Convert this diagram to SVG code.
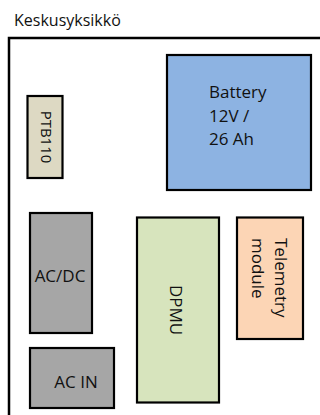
<svg xmlns="http://www.w3.org/2000/svg" width="320" height="415" viewBox="0 0 320 415">
<style>
.box{stroke:#000;stroke-width:2.2}
.t{font-family:"Open Sans","Liberation Sans",sans-serif;font-size:17px;fill:#111}
</style>
<rect width="320" height="415" fill="#fff"/>
<g id="title"><text class="t" x="14" y="26" style="font-size:16px">Keskusyksikkö</text></g>
<g id="keskusyksikko"><rect x="9" y="38" width="330" height="400" fill="none" stroke="#000" stroke-width="2.5"/></g>
<g id="battery">
<rect class="box" x="167" y="55" width="144" height="135" fill="#8DB3E2"/>
<text class="t" x="209" y="98">Battery</text>
<text class="t" x="209" y="122">12V /</text>
<text class="t" x="209" y="145">26 Ah</text>
</g>
<g id="ptb110">
<rect class="box" x="27.5" y="96" width="35" height="82" fill="#DDD9C3"/>
<text class="t" transform="translate(41,137) rotate(90)" text-anchor="middle" style="font-size:15px">PTB110</text>
</g>
<g id="acdc">
<rect class="box" x="30" y="213" width="62" height="120" fill="#A6A6A6"/>
<text class="t" x="60" y="282" text-anchor="middle">AC/DC</text>
</g>
<g id="dpmu">
<rect class="box" x="137" y="217.5" width="82" height="185" fill="#D7E4BD"/>
<text class="t" transform="translate(170,310) rotate(90)" text-anchor="middle">DPMU</text>
</g>
<g id="telemetry">
<rect class="box" x="237" y="217.5" width="66" height="121.5" fill="#FCD5B5"/>
<text class="t" transform="translate(275,238) rotate(90)">Telemetry</text>
<text class="t" transform="translate(252,238) rotate(90)">module</text>
</g>
<g id="acin">
<rect class="box" x="30" y="348" width="84" height="60" fill="#A6A6A6"/>
<text class="t" x="76" y="388" text-anchor="middle">AC IN</text>
</g>
<g id="connectors"></g>
</svg>
